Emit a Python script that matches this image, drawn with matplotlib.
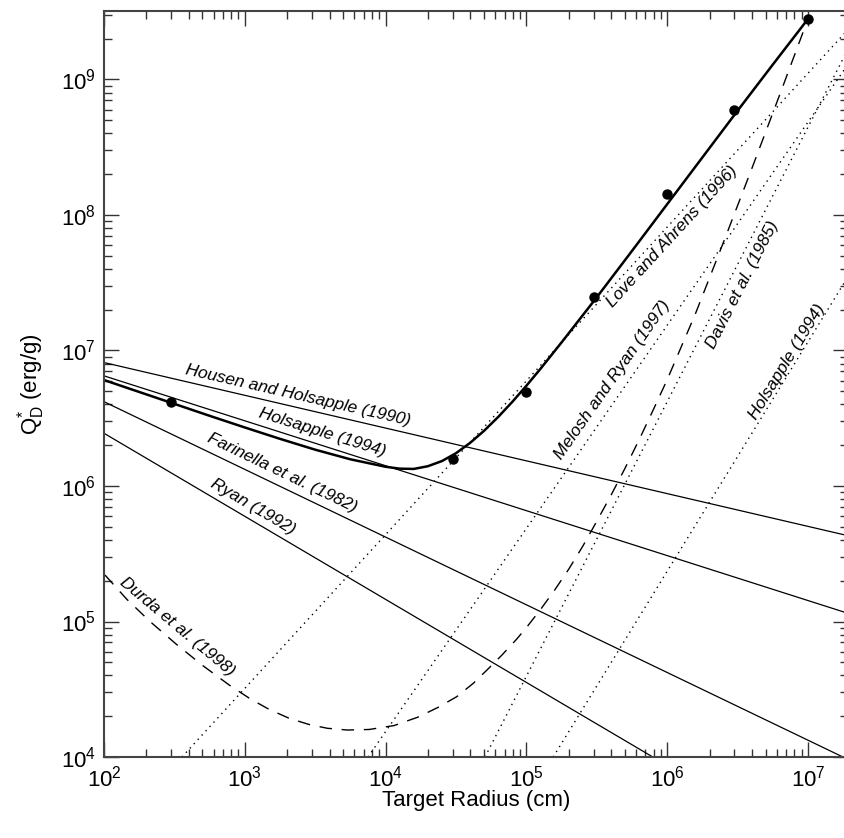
import numpy as np
import matplotlib
matplotlib.use("Agg")
import matplotlib.pyplot as plt
from matplotlib.ticker import LogLocator, NullFormatter

plt.rcParams['font.family'] = ['Liberation Sans', 'DejaVu Sans']
plt.rcParams['mathtext.fontset'] = 'custom'
plt.rcParams['mathtext.rm'] = 'Liberation Sans'
plt.rcParams['mathtext.it'] = 'Liberation Sans:italic'
plt.rcParams['mathtext.bf'] = 'Liberation Sans:bold'

# ---------------- data ----------------
# simulation points
sim_radius = [3e2, 3e4, 1e5, 3e5, 1e6, 3e6, 1e7]
sim_qd = [4.2e6, 1.58e6, 4.9e6, 2.5e7, 1.43e8, 5.96e8, 2.8e9]

# fitted curve (thick solid): log10 radius / log10 Q
fit_logr = [2.00, 2.25, 2.50, 2.75, 3.00, 3.25, 3.50, 3.75, 4.00, 4.10,
            4.20, 4.30, 4.40, 4.50, 4.60, 4.70, 4.80, 4.90, 5.00, 5.10,
            5.25, 5.50, 5.75, 6.00, 6.25, 6.50, 6.75, 7.00]
fit_logq = [6.782, 6.694, 6.606, 6.518, 6.432, 6.348, 6.268, 6.197, 6.142, 6.128,
            6.126, 6.146, 6.184, 6.242, 6.318, 6.408, 6.510, 6.621, 6.740, 6.865,
            7.060, 7.393, 7.735, 8.080, 8.425, 8.770, 9.110, 9.447]

# Durda et al. (1998) dashed curve
durda_logr = [2.007, 2.161, 2.327, 2.516, 2.705, 2.895, 3.042, 3.172, 3.314, 3.456,
              3.586, 3.728, 3.882, 4.060, 4.232, 4.374, 4.505, 4.623, 4.722, 4.825,
              4.931, 5.0, 5.1, 5.2, 5.3, 5.4, 5.5, 5.6, 5.7, 5.8,
              5.9, 6.0, 6.2, 6.4, 6.6, 6.8, 7.0]
durda_logq = [5.343, 5.165, 5.000, 4.830, 4.672, 4.527, 4.427, 4.352, 4.286, 4.240,
              4.212, 4.199, 4.203, 4.232, 4.295, 4.367, 4.445, 4.544, 4.644, 4.751,
              4.870, 4.955, 5.088, 5.231, 5.385, 5.555, 5.740, 5.930, 6.130, 6.340,
              6.560, 6.785, 7.270, 7.800, 8.340, 8.890, 9.447]

# straight solid laws: (radius, Q) end points
hh1990_r = [1e2, 1.92e7]; hh1990_q = [8.15e6, 4.3e5]
hol1994_r = [1e2, 1.92e7]; hol1994_q = [6.5e6, 1.15e5]
far1982_r = [1e2, 1.77e7]; far1982_q = [4.19e6, 1.0e4]
ryan1992_r = [1e2, 7.9e5]; ryan1992_q = [2.45e6, 1.0e4]

# straight dotted laws: (radius, Q) end points
love1996_r = [358, 1.92e7]; love1996_q = [1e4, 2.33e9]
melosh1997_r = [7.5e3, 1.92e7]; melosh1997_q = [1e4, 1.29e9]
davis1985_r = [5.08e4, 1.92e7]; davis1985_q = [1e4, 1.67e9]
hol1994d_r = [1.55e5, 1.92e7]; hol1994d_q = [1e4, 3.5e7]

# ---------------- figure ----------------
W, H = 844, 838
fig = plt.figure(figsize=(W / 100, H / 100), dpi=100)
L, R, B, T = 104, 848, 757, 11
ax = fig.add_axes([L / W, 1 - B / H, (R - L) / W, (B - T) / H])
ax.set_xscale('log')
ax.set_yscale('log')
ax.set_xlim(1e2, 10 ** (2 + (R - L) / 140.8))
ax.set_ylim(1e4, 10 ** (4 + (B - T) / 135.5))

thin = 0.9
ax.plot(hh1990_r, hh1990_q, color='black', lw=thin)
ax.plot(hol1994_r, hol1994_q, color='black', lw=thin)
ax.plot(far1982_r, far1982_q, color='black', lw=thin)
ax.plot(ryan1992_r, ryan1992_q, color='black', lw=thin)

dot = (0, (1.0, 3.2))
for rr, qq in [(love1996_r, love1996_q), (melosh1997_r, melosh1997_q),
               (davis1985_r, davis1985_q), (hol1994d_r, hol1994d_q)]:
    ax.plot(rr, qq, color='black', lw=1.0, linestyle=dot)

ax.plot(10 ** np.array(durda_logr), 10 ** np.array(durda_logq), color='black',
        lw=1.0, linestyle=(0, (9, 7)))

ax.plot(10 ** np.array(fit_logr), 10 ** np.array(fit_logq), color='black', lw=1.8,
        solid_capstyle='round', solid_joinstyle='round')
ax.plot(sim_radius, sim_qd, 'o', color='black', ms=6.5)

# labels along the curves
labels = [
    ("Housen and Holsapple (1990)", 2.39e3, 4.7e6, -12.9),
    ("Holsapple (1994)", 3.52e3, 2.49e6, -17.3),
    ("Farinella et al. (1982)", 1.84e3, 1.25e6, -25.7),
    ("Ryan (1992)", 1.14e3, 7.0e5, -30.5),
    ("Durda et al. (1998)", 330, 9.1e4, -40.0),
    ("Love and Ahrens (1996)", 1.08e6, 6.9e7, 47.5),
    ("Melosh and Ryan (1997)", 4.06e5, 6.05e6, 55.0),
    ("Davis et al. (1985)", 3.45e6, 3.04e7, 62.9),
    ("Holsapple (1994)", 7.1e6, 8.2e6, 58.5),
]
for txt, x, y, rot in labels:
    ax.text(x, y, txt, rotation=rot, rotation_mode='anchor', ha='center',
            va='center', fontsize=12.5, style='italic', color='black')

# ticks
ax.xaxis.set_major_locator(LogLocator(base=10, numticks=20))
ax.yaxis.set_major_locator(LogLocator(base=10, numticks=20))
ax.xaxis.set_minor_locator(LogLocator(base=10, subs=np.arange(2, 10), numticks=20))
ax.yaxis.set_minor_locator(LogLocator(base=10, subs=np.arange(2, 10), numticks=20))
ax.xaxis.set_minor_formatter(NullFormatter())
ax.yaxis.set_minor_formatter(NullFormatter())
ax.tick_params(which='both', direction='in', top=True, right=True, color='#333333')
ax.tick_params(which='major', length=11, width=1.0, labelsize=16, pad=6)
ax.tick_params(which='minor', length=5.5, width=1.0)
for s in ax.spines.values():
    s.set_linewidth(1.5)
    s.set_color('#444444')

fig.text(476 / W, 1 - 800 / H, "Target Radius (cm)", ha='center', va='center', fontsize=16)
fig.text(31 / W, 1 - 384 / H, r"$\mathregular{Q^{*}_{D}}$ (erg/g)", ha='center', va='center',
         rotation=90, fontsize=16)

fig.savefig("out.png", dpi=100)
